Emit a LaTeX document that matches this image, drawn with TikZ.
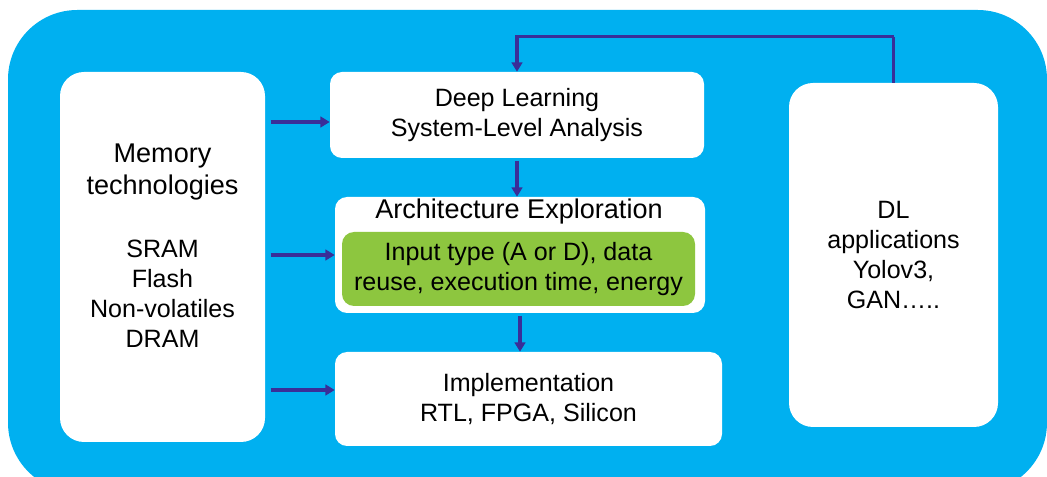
\documentclass[tikz,border=0pt]{standalone}
\usepackage{fontspec}
\setmainfont{Liberation Sans}
\usetikzlibrary{positioning,arrows.meta}
\definecolor{bgblue}{RGB}{0,176,240}
\definecolor{flowblue}{RGB}{58,46,152}
\definecolor{metricgreen}{RGB}{141,198,63}

\begin{document}
\begin{tikzpicture}[x=0.75pt,y=-0.75pt,
  font=\fontsize{18.8}{22.5}\selectfont,
  box/.style={fill=white,rounded corners=9pt,align=center,inner sep=0pt},
  tallbox/.style={box,rounded corners=18pt,minimum width=#1},
  flow/.style={draw=flowblue,line width=2.3pt,-{Triangle[length=7pt,width=8pt]}},
  txt/.style={align=center,inner sep=0pt},
  bigtxt/.style={txt,font=\fontsize{20.3}{23.5}\selectfont}]
  \useasboundingbox (0,0) rectangle (1047,477);
  \clip (0,0) rectangle (1047,477);

  % Sfondo
  \fill[bgblue,rounded corners=52pt] (8,10) rectangle (1047,492);

  % Blocchi laterali
  \node[tallbox=153.75pt,minimum height=277.5pt] (mem) at (162.5,257) {};
  \node[bigtxt] (memtitle) at (162.5,172) {Memory\\technologies};
  \node[txt] (memlist) at (162.5,294) {SRAM\\Flash\\Non-volatiles\\DRAM};
  \node[tallbox=156.75pt,minimum height=258pt] (app) at (893.5,255)
    {DL\\applications\\Yolov3,\\GAN\dots..};

  % Blocchi centrali
  \node[box,minimum width=280.5pt,minimum height=64.5pt] (dl) at (517,115)
    {Deep Learning\\System-Level Analysis};
  \node[box,minimum width=277.5pt,minimum height=87pt] (arch) at (520,255) {};
  \node[bigtxt] (archtitle) at (519,212) {Architecture Exploration};
  \node[box,fill=metricgreen,minimum width=264.75pt,minimum height=55.5pt] (metrics) at (518.5,269)
    {Input type (A or D), data\\reuse, execution time, energy};
  \node[box,minimum width=290.25pt,minimum height=70.5pt] (impl) at (528.5,399)
    {Implementation\\RTL, FPGA, Silicon};

  % Frecce da mem
  \draw[flow] ([xshift=4pt]mem.east |- 0,122) -- (dl.west |- 0,122);
  \draw[flow] ([xshift=4pt]mem.east |- arch.west) -- (arch.west);
  \draw[flow] ([xshift=4pt]mem.east |- 0,390) -- (impl.west |- 0,390);

  % Flusso verticale
  \draw[flow] ([yshift=-2pt]dl.south) -- (arch.north -| dl.south);
  \draw[flow] ([yshift=-2pt]arch.south) -- (arch.south |- impl.north);

  % Retroazione
  \draw[flow,-] (app.north) -- ++(0,-46) coordinate (fb);
  \draw[flow] (fb) -| (dl.north);
\end{tikzpicture}
\end{document}
